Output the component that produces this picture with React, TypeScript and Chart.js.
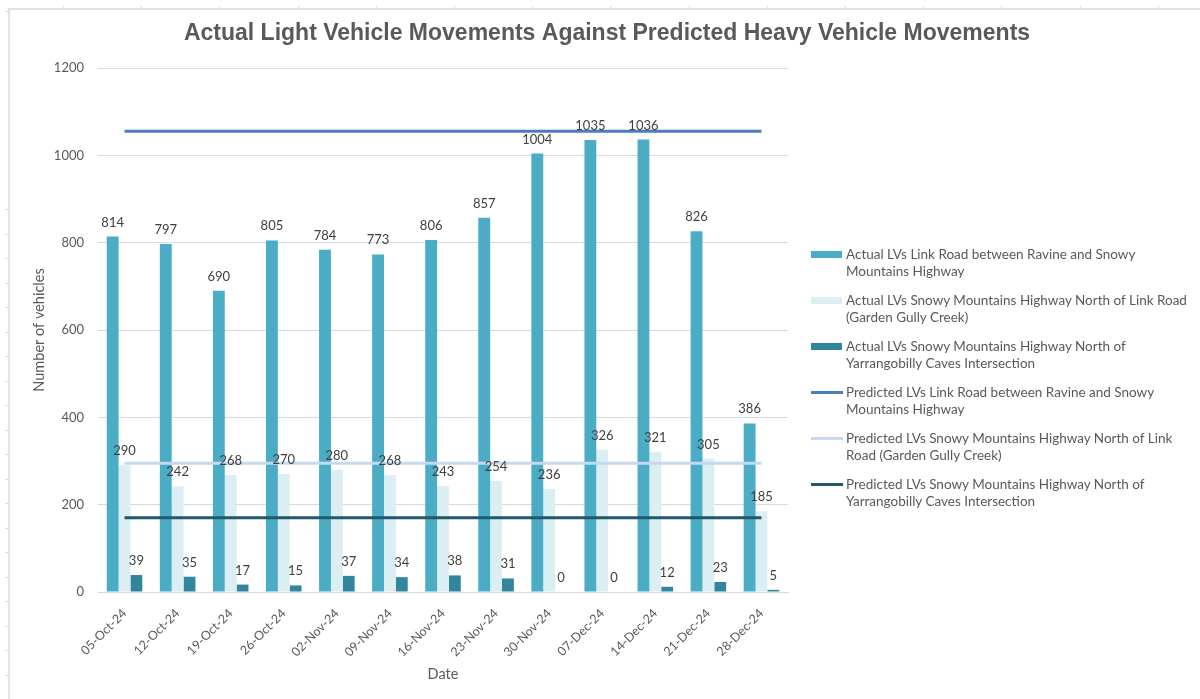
import { useEffect, useRef } from 'react';
import { Chart, registerables } from 'chart.js';

Chart.register(...registerables);

const categories = [
  '05-Oct-24', '12-Oct-24', '19-Oct-24', '26-Oct-24', '02-Nov-24', '09-Nov-24', '16-Nov-24',
  '23-Nov-24', '30-Nov-24', '07-Dec-24', '14-Dec-24', '21-Dec-24', '28-Dec-24',
];
const actualLinkRoad = [814, 797, 690, 805, 784, 773, 806, 857, 1004, 1035, 1036, 826, 386];
const actualSnowyNorth = [290, 242, 268, 270, 280, 268, 243, 254, 236, 326, 321, 305, 185];
const actualYarrangobilly = [39, 35, 17, 15, 37, 34, 38, 31, 0, 0, 12, 23, 5];
const predictedLinkRoad = [1055, 1055, 1055, 1055, 1055, 1055, 1055, 1055, 1055, 1055, 1055, 1055, 1055];
const predictedSnowyNorth = [295, 295, 295, 295, 295, 295, 295, 295, 295, 295, 295, 295, 295];
const predictedYarrangobilly = [170, 170, 170, 170, 170, 170, 170, 170, 170, 170, 170, 170, 170];
const yTicks = [0, 200, 400, 600, 800, 1000, 1200];

const TITLE = 'Actual Light Vehicle Movements Against Predicted Heavy Vehicle Movements';

const legendItems = [
  { kind: 'bar', color: '#4bacc6', lines: ['Actual LVs Link Road between Ravine and Snowy', 'Mountains Highway'] },
  { kind: 'bar', color: '#daeef3', lines: ['Actual LVs Snowy Mountains Highway North of Link Road', '(Garden Gully Creek)'] },
  { kind: 'bar', color: '#31859c', lines: ['Actual LVs Snowy Mountains Highway North of', 'Yarrangobilly Caves Intersection'] },
  { kind: 'line', color: '#4a7ebb', lines: ['Predicted LVs Link Road between Ravine and Snowy', 'Mountains Highway'] },
  { kind: 'line', color: '#c6d9f1', lines: ['Predicted LVs Snowy Mountains Highway North of Link', 'Road (Garden Gully Creek)'] },
  { kind: 'line', color: '#215968', lines: ['Predicted LVs Snowy Mountains Highway North of', 'Yarrangobilly Caves Intersection'] },
];

const FONT = 'Lato, "Open Sans", sans-serif';

const barLabelPlugin = {
  id: 'barLabels',
  afterDatasetsDraw(chart: any) {
    const ctx = chart.ctx;
    ctx.save();
    ctx.font = `13px ${FONT}`;
    ctx.fillStyle = '#404040';
    ctx.textAlign = 'center';
    ctx.textBaseline = 'alphabetic';
    chart.data.datasets.forEach((ds: any, i: number) => {
      if (ds.type !== 'bar') return;
      const meta = chart.getDatasetMeta(i);
      meta.data.forEach((el: any, j: number) => {
        ctx.fillText(String(ds.data[j]), el.x, el.y - 10);
      });
    });
    ctx.restore();
  },
};

export default function App() {
  const canvasRef = useRef<HTMLCanvasElement | null>(null);

  useEffect(() => {
    if (!canvasRef.current) return;
    const chart = new Chart(canvasRef.current, {
      type: 'bar',
      data: {
        labels: categories,
        datasets: [
          { type: 'bar', label: 'Actual LVs Link Road between Ravine and Snowy Mountains Highway', data: actualLinkRoad, backgroundColor: '#4bacc6', order: 1 },
          { type: 'bar', label: 'Actual LVs Snowy Mountains Highway North of Link Road (Garden Gully Creek)', data: actualSnowyNorth, backgroundColor: '#daeef3', order: 1 },
          { type: 'bar', label: 'Actual LVs Snowy Mountains Highway North of Yarrangobilly Caves Intersection', data: actualYarrangobilly, backgroundColor: '#31859c', order: 1 },
          { type: 'line', label: 'Predicted LVs Link Road between Ravine and Snowy Mountains Highway', data: predictedLinkRoad, borderColor: '#4a7ebb', borderWidth: 3, pointRadius: 0, order: 0 },
          { type: 'line', label: 'Predicted LVs Snowy Mountains Highway North of Link Road (Garden Gully Creek)', data: predictedSnowyNorth, borderColor: '#c6d9f1', borderWidth: 3, pointRadius: 0, order: 0 },
          { type: 'line', label: 'Predicted LVs Snowy Mountains Highway North of Yarrangobilly Caves Intersection', data: predictedYarrangobilly, borderColor: '#215968', borderWidth: 3, pointRadius: 0, order: 0 },
        ] as any,
      },
      options: {
        animation: false,
        responsive: false,
        maintainAspectRatio: false,
        datasets: { bar: { categoryPercentage: 0.67, barPercentage: 1.0 } } as any,
        layout: { padding: { left: 14, right: 0, top: 10, bottom: 0 } },
        plugins: {
          legend: { display: false },
          tooltip: { enabled: false },
          title: {
            display: true,
            text: TITLE,
            color: '#595959',
            font: { family: '"Liberation Sans", Arial, sans-serif', size: 23, weight: 'bold' },
            padding: { top: 10, bottom: 20.4 },
          },
        },
        scales: {
          x: {
            offset: true,
            grid: { display: false },
            border: { display: true, color: '#d9d9d9' },
            ticks: {
              color: '#595959',
              font: { family: FONT, size: 12.5 },
              minRotation: 45,
              maxRotation: 45,
              autoSkip: false,
              padding: 6,
            },
            title: {
              display: true,
              text: 'Date',
              color: '#595959',
              font: { family: FONT, size: 14.5 },
              padding: { top: 0, bottom: 16 },
            },
            afterFit(scale: any) { scale.height = 107; },
          },
          y: {
            min: 0,
            max: 1200,
            afterBuildTicks(scale: any) { scale.ticks = yTicks.map((v) => ({ value: v })); },
            grid: { color: '#d9d9d9', lineWidth: 1, drawTicks: false },
            border: { display: false },
            ticks: {
              color: '#595959',
              font: { family: FONT, size: 13 },
              padding: 14,
              callback: (v: any) => String(v),
            },
            title: {
              display: true,
              text: 'Number of vehicles',
              color: '#595959',
              font: { family: FONT, size: 14.5 },
              padding: { top: 17, bottom: 0 },
            },
            afterFit(scale: any) { scale.width = 84; },
          },
          legendSpace: {
            type: 'linear',
            position: 'right',
            display: true,
            grid: { display: false },
            border: { display: false },
            ticks: { display: false },
            afterFit(scale: any) { scale.width = 412; },
          },
        } as any,
      },
      plugins: [barLabelPlugin],
    });
    return () => chart.destroy();
  }, []);

  const topTicks: number[] = [];
  for (let x = 63; x < 1200; x += 78.2) topTicks.push(Math.round(x));
  const leftTicks: number[] = [11];
  for (let y = 209; y < 699; y += 24.5) leftTicks.push(Math.round(y));

  return (
    <div style={{ position: 'fixed', left: 0, top: 0, width: 1200, height: 699, background: '#fff', overflow: 'hidden' }}>
      {topTicks.map((x) => (
        <div key={'t' + x} style={{ position: 'absolute', left: x, top: 6, width: 1, height: 3, background: '#dcdcdc' }} />
      ))}
      {leftTicks.map((y) => (
        <div key={'l' + y} style={{ position: 'absolute', left: 5, top: y, width: 3, height: 1, background: '#dcdcdc' }} />
      ))}
      <div style={{ position: 'absolute', left: 8, top: 8, width: 1192, height: 1.5, background: '#e2e2e2' }} />
      <div style={{ position: 'absolute', left: 8, top: 8, width: 1.5, height: 691, background: '#e2e2e2' }} />
      <canvas ref={canvasRef} width={1200} height={699} style={{ position: 'absolute', left: 0, top: 0, width: 1200, height: 699 }} />
      <div style={{ position: 'absolute', left: 811, top: 0 }}>
        {legendItems.map((item, i) => (
          <div key={i} style={{ position: 'absolute', left: 0, top: 246 + 46 * i, width: 385, fontFamily: FONT, fontSize: 13.5, lineHeight: '17px', color: '#595959' }}>
            <div
              style={{
                position: 'absolute',
                left: 0,
                top: item.kind === 'bar' ? 5 : 7,
                width: item.kind === 'bar' ? 31 : 32,
                height: item.kind === 'bar' ? 7 : 3,
                background: item.color,
              }}
            />
            <div style={{ position: 'absolute', left: 35, top: 0, whiteSpace: 'nowrap' }}>
              {item.lines.map((ln, k) => (
                <div key={k}>{ln}</div>
              ))}
            </div>
          </div>
        ))}
      </div>
    </div>
  );
}
